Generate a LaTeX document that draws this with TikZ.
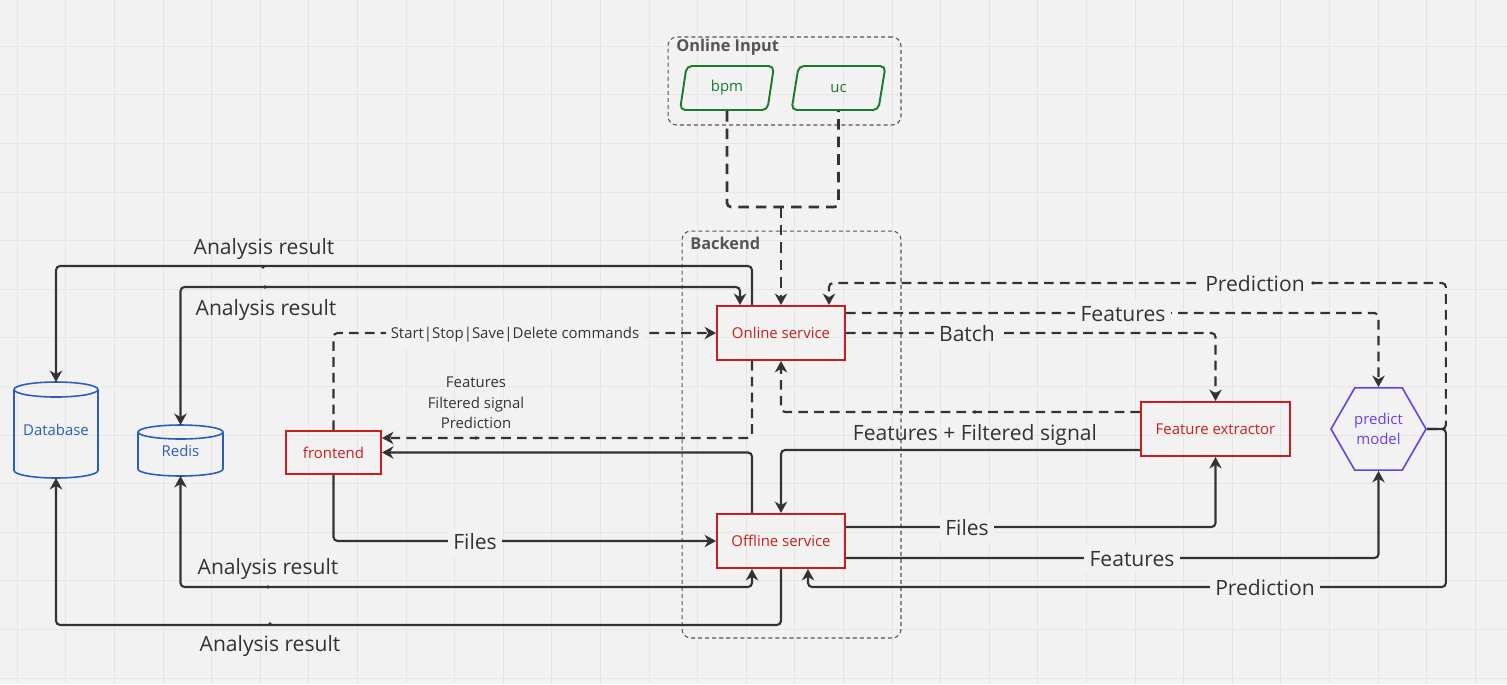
\documentclass[tikz,border=0pt]{standalone}
\usepackage{fontspec}
\setmainfont{Open Sans}
\usetikzlibrary{arrows.meta,shapes.geometric}
\definecolor{bgc}{HTML}{F2F2F2}
\definecolor{gridc}{HTML}{E6E6E6}
\definecolor{linec}{HTML}{333333}
\definecolor{redc}{HTML}{C81E1E}
\definecolor{bluec}{HTML}{2D5DBA}
\definecolor{greenc}{HTML}{1B7A2E}
\definecolor{purpc}{HTML}{6A3DE8}
\definecolor{grpc}{HTML}{555555}
\begin{document}
\begin{tikzpicture}[x=0.02cm,y=-0.02cm,>={Stealth[length=6.5pt,width=7pt,inset=2pt]},
	box/.style={draw=redc,text=redc,line width=1.1pt,font=\fontsize{8.5}{10}\selectfont,minimum width=2.56cm,minimum height=1.08cm,inner sep=0pt},
	store/.style={text=bluec,font=\fontsize{8.5}{10}\selectfont,inner sep=0pt,outer sep=0pt},
	cyl/.style={draw=bluec,line width=0.9pt},
	inp/.style={trapezium,trapezium left angle=80,trapezium right angle=100,trapezium stretches=true,draw=greenc,text=greenc,line width=1.1pt,rounded corners=3pt,minimum width=1.88cm,minimum height=0.88cm,inner sep=0pt,font=\fontsize{8.5}{10}\selectfont},
	grp/.style={draw=grpc,dash pattern=on 2.3pt off 1.7pt,line width=0.6pt,rounded corners=5pt,inner sep=0pt},
	grplbl/.style={text=grpc,font=\fontsize{9.3}{11}\selectfont\bfseries,anchor=west,inner sep=0pt},
	conn/.style={draw=linec,line width=1.2pt,rounded corners=2.3pt,->},
	dconn/.style={conn,dash pattern=on 5.5pt off 3.5pt},
	lbl/.style={text=linec,font=\fontsize{12}{14}\selectfont,inner sep=1pt},
	onl/.style={lbl,fill=bgc,inner sep=3pt},
	sml/.style={text=linec,font=\fontsize{8.5}{11.6}\selectfont,align=center,inner sep=1pt},
	dot/.style={fill=linec}]

	\fill[bgc] (0,0) rectangle (1507,684);
	\useasboundingbox (0,0) rectangle (1507,684);
	\foreach \gx in {17.3,65.9,...,1507} \draw[gridc,line width=0.6pt] (\gx,0) -- (\gx,684);
	\foreach \gy in {-2.3,46.3,...,684} \draw[gridc,line width=0.6pt] (0,\gy) -- (1507,\gy);

	% groups
	\node[grp,minimum width=4.66cm,minimum height=1.76cm] (gin) at (784.5,81) {};
	\node[grplbl] (ginl) at (676,47) {Online Input};
	\node[grp,minimum width=4.38cm,minimum height=8.14cm] (gbe) at (791.5,434.5) {};
	\node[grplbl] (gbel) at (690,243) {Backend};

	% nodes
	\node[inp] (bpm) at (727,88) {bpm};
	\node[inp] (uc) at (838.5,88) {uc};
	\node[box] (on) at (781,333) {Online service};
	\node[box] (off) at (781,541) {Offline service};
	\node[box,minimum width=2.98cm] (fe) at (1215.5,429) {Feature extractor};
	\node[box,minimum width=1.9cm,minimum height=0.86cm] (fr) at (333.5,452.5) {frontend};
	\node[regular polygon,regular polygon sides=6,draw=purpc,text=purpc,line width=0.9pt,minimum size=1.9cm,inner sep=0pt,align=center,font=\fontsize{8.5}{11.4}\selectfont] (pm) at (1378.5,429) {predict\\model};
	\node[store,minimum width=1.68cm,minimum height=1.92cm] (db) at (56,430) {Database};
	\draw[cyl] ([yshift=-0.15cm]db.north west) -- ([yshift=0.15cm]db.south west) arc (180:360:0.84cm and 0.15cm) -- ([yshift=-0.15cm]db.north east) arc (0:180:0.84cm and 0.15cm) arc (180:360:0.84cm and 0.15cm);
	\node[store,minimum width=1.7cm,minimum height=1.02cm] (rd) at (180.5,450.5) {\raisebox{-2pt}{Redis}};
	\draw[cyl] ([yshift=-0.14cm]rd.north west) -- ([yshift=0.14cm]rd.south west) arc (180:360:0.85cm and 0.14cm) -- ([yshift=-0.14cm]rd.north east) arc (0:180:0.85cm and 0.14cm) arc (180:360:0.85cm and 0.14cm);

	% online input
	\coordinate (join) at (781,207);
	\draw[dconn,-,line width=1.5pt,dash pattern=on 6pt off 4pt] (bpm.south) |- (join) -| (uc.south);
	\draw[dconn,line width=1.5pt,dash pattern=on 6pt off 4pt] (join) -- (on.north);

	% analysis results
	\draw[conn] ([xshift=-0.58cm]on.north) -- ++(0,-39) -| (db.north);
	\draw[conn,<->] (rd.north) -- ++(0,-138) -| ([xshift=-0.82cm]on.north);
	\draw[conn] (off.south) -- ++(0,56) -| (db.south);
	\draw[conn,<->] (rd.south) -- ++(0,111) -| ([xshift=-0.58cm]off.south);

	% frontend
	\draw[dconn] (fr.north) |- (on.west);
	\draw[dconn] ([xshift=-0.58cm]on.south) |- ([yshift=0.29cm]fr.east);
	\draw[conn] ([xshift=-0.58cm]off.north) |- (fr.east);
	\draw[conn] (fr.south) |- (off.west);

	% extractor and model
	\draw[dconn] (on.east) -| (fe.north);
	\draw[dconn] ([yshift=0.4cm]on.east) -| (pm.north);
	\draw[dconn] ([yshift=0.34cm]fe.west) -| (on.south);
	\draw[dconn] (pm.east) -- ++(19,0) -- ++(0,-146) -| ([xshift=0.96cm]on.north);
	\draw[conn] ([yshift=-0.42cm]fe.west) -| (off.north);
	\draw[conn] ([yshift=0.28cm]off.east) -| (fe.south);
	\draw[conn] ([yshift=-0.34cm]off.east) -| (pm.south);
	\draw[conn] (pm.east) -- ++(19,0) -- ++(0,158) -| ([xshift=0.54cm]off.south);

	% labels
	\node[lbl] (ar1) at (264,249) {Analysis result};
	\node[lbl] (ar2) at (266,310) {Analysis result};
	\node[lbl] (ar3) at (268,569) {Analysis result};
	\node[lbl] (ar4) at (270,646) {Analysis result};
	\node[sml,fill=bgc,inner sep=3pt] (cmd) at (515,334.5) {Start|Stop|Save|Delete commands};
	\node[sml] (sig) at (476,403) {Features\\Filtered signal\\Prediction};
	\node[onl] (fl1) at (475,542) {Files};
	\node[onl] (bt) at (967,334) {Batch};
	\node[onl] (ft1) at (1123,314) {Features};
	\node[onl] (pr1) at (1255,284) {Prediction};
	\node[lbl] (ffs) at (975,435) {Features + Filtered signal};
	\node[onl] (fl2) at (967,528) {Files};
	\node[onl] (ft2) at (1132,559) {Features};
	\node[onl] (pr2) at (1265,588) {Prediction};

	\fill[dot] (263,267) circle (1.1pt) (265,287) circle (1.1pt) (268,587) circle (1.1pt) (270,624) circle (1.1pt) (476,438) circle (1.1pt) (975,412) circle (1.1pt) (1313,283) circle (1.1pt);
\end{tikzpicture}
\end{document}
